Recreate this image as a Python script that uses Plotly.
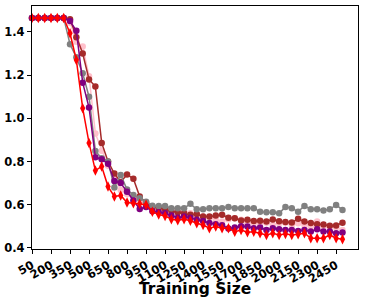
import plotly.graph_objects as go

train_sizes = list(range(50, 2501, 50))

red = [1.465]*6 + [1.394, 1.27, 1.047, 0.886, 0.758, 0.777, 0.684, 0.638, 0.643, 0.61,
       0.607, 0.604, 0.60, 0.568, 0.555, 0.548, 0.533, 0.528, 0.533, 0.526,
       0.514, 0.506, 0.491, 0.499, 0.491, 0.491, 0.475, 0.483, 0.473, 0.475,
       0.468, 0.46, 0.468, 0.46, 0.465, 0.46, 0.463, 0.468, 0.445, 0.445,
       0.445, 0.46, 0.445, 0.44]
purple = [1.465]*6 + [1.45, 1.405, 1.165, 1.05, 0.82, 0.81, 0.79, 0.71, 0.70, 0.66,
          0.62, 0.58, 0.59, 0.57, 0.565, 0.56, 0.55, 0.54, 0.545, 0.54,
          0.53, 0.525, 0.515, 0.51, 0.505, 0.49, 0.495, 0.50, 0.499, 0.491,
          0.494, 0.483, 0.491, 0.486, 0.483, 0.483, 0.478, 0.483, 0.476, 0.486,
          0.476, 0.476, 0.468, 0.471]
gray = [1.465]*6 + [1.343, 1.283, 1.209, 1.10, 0.849, 0.815, 0.80, 0.68, 0.738, 0.67,
        0.645, 0.63, 0.614, 0.595, 0.594, 0.594, 0.584, 0.584, 0.584, 0.604,
        0.579, 0.579, 0.584, 0.584, 0.584, 0.59, 0.584, 0.584, 0.584, 0.584,
        0.568, 0.565, 0.565, 0.56, 0.59, 0.584, 0.568, 0.594, 0.579, 0.579,
        0.573, 0.579, 0.599, 0.576]
brown = [1.465]*6 + [1.459, 1.375, 1.30, 1.18, 1.147, 0.886, 0.80, 0.744, 0.705, 0.74,
         0.72, 0.638, 0.61, 0.59, 0.585, 0.58, 0.57, 0.565, 0.56, 0.553,
         0.557, 0.545, 0.545, 0.55, 0.553, 0.54, 0.537, 0.527, 0.53, 0.525,
         0.526, 0.522, 0.532, 0.523, 0.52, 0.518, 0.535, 0.522, 0.515, 0.51,
         0.508, 0.503, 0.504, 0.517]
pink = [1.465]*6 + [1.443, 1.355, 1.332, 1.195, 0.93, 0.85, 0.78, 0.73, 0.668, 0.65,
        0.64, 0.62, 0.60, 0.575, 0.578, 0.575, 0.58, 0.565, 0.57, 0.56,
        0.553, 0.545, 0.542, 0.53, 0.522, 0.533, 0.537, 0.53, 0.514, 0.517,
        0.514, 0.517, 0.506, 0.514, 0.517, 0.506, 0.514, 0.506, 0.499, 0.522,
        0.499, 0.499, 0.496, 0.483]

x_tick_vals = list(range(50, 2451, 150))
y_tick_vals = [0.4, 0.6, 0.8, 1.0, 1.2, 1.4]

series = [
    ("pink", pink, "pink", "circle", 6.5),
    ("brown", brown, "brown", "circle", 6.5),
    ("gray", gray, "gray", "circle", 6.5),
    ("purple", purple, "purple", "circle", 6.5),
    ("red", red, "red", "diamond-tall", 7.5),
]

fig = go.Figure()
for name, ys, color, sym, size in series:
    fig.add_trace(go.Scatter(
        x=train_sizes, y=ys, mode="lines+markers", name=name,
        line=dict(color=color, width=1.5),
        marker=dict(color=color, symbol=sym, size=size, line=dict(width=0)),
        cliponaxis=False, showlegend=False,
    ))

fig.update_layout(
    width=365, height=304,
    margin=dict(l=32, r=7, t=6, b=55),
    paper_bgcolor="white", plot_bgcolor="white",
    xaxis=dict(
        range=[50, 2622.5], tickvals=x_tick_vals,
        ticktext=[f"<b>{v}</b>" for v in x_tick_vals], tickangle=-30,
        tickfont=dict(family="DejaVu Sans", size=11.5, color="black"),
        ticks="outside", ticklen=4, tickcolor="black",
        showline=True, linecolor="black", linewidth=1.2, mirror=True,
        showgrid=False, zeroline=False, automargin=False,
    ),
    yaxis=dict(
        range=[0.395, 1.52], tickvals=y_tick_vals,
        ticktext=[f"<b>{v:.1f}</b>" for v in y_tick_vals],
        tickfont=dict(family="DejaVu Sans", size=11.5, color="black"),
        ticks="outside", ticklen=4, tickcolor="black",
        showline=True, linecolor="black", linewidth=1.2, mirror=True,
        showgrid=False, zeroline=False, automargin=False,
    ),
    annotations=[dict(
        text="<b>Training Size</b>", xref="paper", yref="paper",
        x=0.5, y=0, yshift=-40, xanchor="center", yanchor="middle",
        showarrow=False,
        font=dict(family="DejaVu Sans", size=15.5, color="black"),
    )],
)

fig.write_html("out.html",
               config={"displayModeBar": False},
               post_script="document.body.style.margin='0';document.body.style.padding='0';")
